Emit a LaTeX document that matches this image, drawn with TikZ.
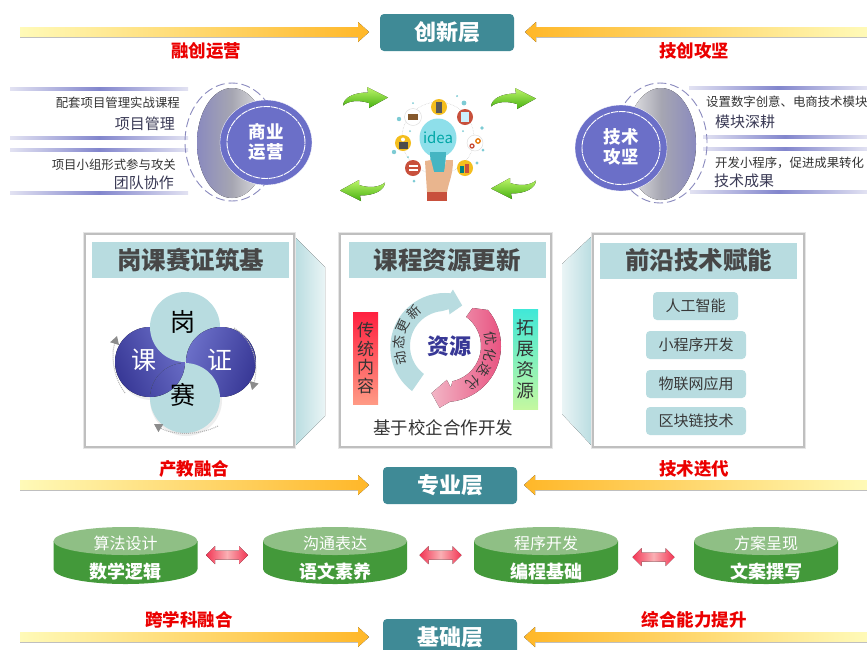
\documentclass[tikz,border=0pt]{standalone}
\usepackage{fontspec}
\setmainfont{Noto Sans CJK SC}
\usetikzlibrary{shapes.geometric,arrows.meta,calc}
\newcommand{\fsz}[1]{\fontsize{#1}{#1}\selectfont}
\definecolor{layerteal}{HTML}{3F8A96}
\definecolor{paleblue}{HTML}{B8DCE0}
\definecolor{deepgreen}{HTML}{43993A}
\definecolor{lightgreen}{HTML}{8FBF85}
\definecolor{roundelblue}{HTML}{6B6FC8}
\definecolor{deepblue}{HTML}{383896}
\definecolor{inkdark}{HTML}{3A3A55}
\definecolor{bandpale}{HTML}{FFFAB8}
\definecolor{bandgold}{HTML}{FFB728}
\definecolor{rulemid}{HTML}{6C70C4}
\definecolor{ruleend}{HTML}{E2E2F2}
\definecolor{lensblue}{HTML}{8A8ABE}
\definecolor{lensgray}{HTML}{A6A6B2}
\definecolor{arrowlight}{HTML}{BDF56A}
\definecolor{arrowdark}{HTML}{46B010}
\definecolor{pinkend}{HTML}{F23554}
\definecolor{pinkmid}{HTML}{FAB0B4}
\definecolor{ringpale}{HTML}{F2B5C5}
\definecolor{ringdeep}{HTML}{E8507F}
\definecolor{redbartop}{HTML}{FF2040}
\definecolor{redbarbot}{HTML}{FF9A85}
\definecolor{mintbartop}{HTML}{40E8D8}
\definecolor{mintbarbot}{HTML}{C4F8A0}
\definecolor{bulbblue}{HTML}{8EDFEA}
\definecolor{neckblue}{HTML}{45B5C2}
\definecolor{skin}{HTML}{E9B58E}
\definecolor{icored}{HTML}{C8503C}
\definecolor{icoyellow}{HTML}{F4BE1E}
\tikzset{
  layerbox/.style={draw=none,fill=layerteal,rounded corners=4pt,text=white,font=\fsz{22}\bfseries,minimum width=134pt,minimum height=37pt,inner sep=0pt},
  redlabel/.style={text=red!92!black,font=\fsz{17.5}\bfseries,inner sep=0pt},
  smalltext/.style={text=black!80,font=\fsz{12.4},inner sep=0pt},
  midtext/.style={text=inkdark,font=\fsz{15},inner sep=0pt},
  roundel/.style={fill=roundelblue,draw=white,line width=.3pt},
  roundeltext/.style={text=white,font=\fsz{17.5}\bfseries,inner sep=0pt},
  panelframe/.style={draw=black!25,line width=1.4pt,fill=white},
  panelhead/.style={fill=paleblue,draw=none,minimum height=36pt,minimum width=197pt,inner sep=0pt,text=black!72,font=\fsz{24.5}\bfseries},
  techbox/.style={fill=paleblue,draw=none,rounded corners=4pt,minimum height=28pt,text=black!78,font=\fsz{15},inner sep=0pt},
  petaltext/.style={font=\fsz{25},inner sep=0pt},
  arctext/.style={text=black!78,font=\fsz{13.5},inner sep=0pt},
  cyltop/.style={text=white,font=\fsz{16},inner sep=0pt},
  cylbot/.style={text=white,font=\fsz{18}\bfseries,inner sep=0pt},
  flick/.style={draw=black!30,line width=1pt,densely dotted,-{Triangle[length=8pt,width=9pt,color=black!45]}},
  dashring/.style={draw=lensblue,line width=.9pt,dash pattern=on 9pt off 4pt},
}
\newcommand{\bandright}[3]{%
  \fill[left color=bandpale,right color=bandgold]
    (#1,#3-5) -- (#2-11,#3-5) -- (#2-11,#3-10) -- (#2,#3) -- (#2-11,#3+10) -- (#2-11,#3+5) -- (#1,#3+5) -- cycle;
  \draw[black!25,line width=.6pt] (#1,#3+5.4) -- (#2-11,#3+5.4);}
\newcommand{\bandleft}[3]{%
  \fill[right color=bandpale,left color=bandgold]
    (#1,#3-5) -- (#2+11,#3-5) -- (#2+11,#3-10) -- (#2,#3) -- (#2+11,#3+10) -- (#2+11,#3+5) -- (#1,#3+5) -- cycle;
  \draw[black!25,line width=.6pt] (#1,#3+5.4) -- (#2+11,#3+5.4);}
\newcommand{\greenarrow}[3]{%
  \begin{scope}[shift={(#1,#2)},#3]
    \fill[top color=arrowlight,bottom color=arrowdark]
      (0,18.5) .. controls (0.5,11) and (10,5.5) .. (25,5.5) -- (24,0) -- (45,10.5) -- (26,21) -- (26,16)
      .. controls (15,12.5) and (5,14) .. (0,18.5) -- cycle;
  \end{scope}}
\newcommand{\drum}[4]{%
  \fill[deepgreen] (#2-72,541) -- (#2-72,569) arc[start angle=180,end angle=360,x radius=72pt,y radius=15pt] -- (#2+72,541) -- cycle;
  \fill[lightgreen] (#2,541) ellipse[x radius=72pt,y radius=14pt];
  \node[cyltop] (#1t) at (#2,543) {#3};
  \node[cylbot] (#1b) at (#2,572) {#4};}
\newcommand{\ruleband}[3]{%
  \fill[left color=ruleend,right color=ruleend,middle color=rulemid!85] (#1,#3-1.3) rectangle (#2,#3+1.3);}
\newcommand{\pinkdouble}[2]{%
  \fill[left color=pinkend,right color=pinkend,middle color=pinkmid]
    (#1-21,#2) -- (#1-12,#2-9) -- (#1-12,#2-4.5) -- (#1+12,#2-4.5) -- (#1+12,#2-9) -- (#1+21,#2)
    -- (#1+12,#2+9) -- (#1+12,#2+4.5) -- (#1-12,#2+4.5) -- (#1-12,#2+9) -- cycle;}
\begin{document}
\begin{tikzpicture}[x=1pt,y=-1pt]
\useasboundingbox (0,0) rectangle (867,649);
\clip (0,0) rectangle (867,649);
\fill[white] (0,0) rectangle (867,649);

% ---- band arrows
\bandright{20}{369}{32}
\bandleft{867}{525}{32}
\bandright{20}{369}{485}
\bandleft{867}{524}{485}
\bandright{20}{369}{637}
\bandleft{867}{524}{637}

% ---- layer boxes
\node[layerbox] (innov) at (447,32.5) {创新层};
\node[layerbox] (major) at (450,485.5) {专业层};
\node[layerbox] (base) at (450,637.5) {基础层};

% ---- red labels
\node[redlabel] (la) at (206,51) {融创运营};
\node[redlabel] (lb) at (694,51) {技创攻坚};
\node[redlabel] (lc) at (194,469) {产教融合};
\node[redlabel] (ld) at (694,469) {技术迭代};
\node[redlabel] (le) at (189,620) {跨学科融合};
\node[redlabel] (lf) at (694,620) {综合能力提升};

% ---- left roundel group
\ruleband{10}{188}{89}
\ruleband{10}{188}{138}
\ruleband{10}{188}{150}
\ruleband{10}{188}{193}
\draw[dashring] (232,142) ellipse[x radius=47pt,y radius=59pt];
\fill[left color=lensblue,right color=black!8,middle color=lensgray] (232,143) ellipse[x radius=35pt,y radius=55pt];
\fill[roundel] (266,142.5) ellipse[x radius=46pt,y radius=42.5pt];
\draw[white,line width=.9pt,dash pattern=on 7pt off .8pt] (266,142.5) ellipse[x radius=39pt,y radius=36pt];
\node[roundeltext] (op1) at (266,132) {商业};
\node[roundeltext] (op2) at (266,152) {运营};
\node[smalltext,anchor=east] (t1) at (180,103) {配套项目管理实战课程};
\node[midtext,anchor=east] (t2) at (175,124) {项目管理};
\node[smalltext,anchor=east] (t3) at (176,165) {项目小组形式参与攻关};
\node[midtext,anchor=east] (t4) at (174,183) {团队协作};

% ---- right roundel group
\ruleband{689}{867}{88}
\ruleband{703}{867}{137}
\ruleband{703}{867}{149}
\ruleband{690}{867}{192}
\draw[dashring] (660,143) ellipse[x radius=47pt,y radius=60pt];
\fill[right color=lensblue,left color=black!8,middle color=lensgray] (661,144) ellipse[x radius=35pt,y radius=56pt];
\fill[roundel] (621,148) ellipse[x radius=46pt,y radius=43pt];
\draw[white,line width=.9pt,dash pattern=on 7pt off .8pt] (621,148) ellipse[x radius=39pt,y radius=36.5pt];
\node[roundeltext] (tc1) at (621,137) {技术};
\node[roundeltext] (tc2) at (621,157) {攻坚};
\node[smalltext,anchor=west] (t5) at (706,102) {设置数字创意、电商技术模块};
\node[midtext,anchor=west] (t6) at (715,122) {模块深耕};
\node[smalltext,anchor=west] (t7) at (715,163) {开发小程序，促进成果转化};
\node[midtext,anchor=west] (t8) at (714,181) {技术成果};

% ---- green arrows
\greenarrow{343}{87}{}
\greenarrow{491}{88}{}
\greenarrow{385}{201}{xscale=-1,yscale=-1}
\greenarrow{536}{199}{xscale=-1,yscale=-1}

% ---- idea illustration
\draw[black!22,line width=.5pt,densely dotted] (438,138) circle[radius=36pt];
\foreach \dx/\dy/\dr in {399/119/2.2,464/103/2.4,482/128/1.8,394/152/2.2,483/150/1.5,477/163/1.6,414/181/1.5,413/103/1,457/96/1,410/131/1,463/131/1,408/157/1}{
  \fill[neckblue!70] (\dx,\dy) circle[radius=\dr pt];}
\fill[icoyellow] (439,107) circle[radius=8pt];
\fill[black!65] (436,101.5) rectangle (442,112.5);
\fill[white] (413,117) circle[radius=8.5pt];
\draw[black!15,line width=.4pt] (413,117) circle[radius=8.5pt];
\fill[brown!70!black] (408,114) rectangle (418,120);
\fill[icored] (465,117) circle[radius=8pt];
\fill[white!80!cyan] (461,112) rectangle (469,122);
\fill[white] (475,143) circle[radius=8pt];
\draw[black!15,line width=.4pt] (475,143) circle[radius=8pt];
\draw[orange!90!black,line width=1.3pt] (478,141) circle[radius=2.2pt];
\draw[icored,line width=1.3pt] (472,146) circle[radius=2pt];
\fill[icoyellow] (465,168) circle[radius=8pt];
\fill[teal] (460,166) rectangle (464,173);
\fill[icored] (465,164) rectangle (469,173);
\fill[icoyellow] (403,143) circle[radius=8pt];
\fill[black!70] (398.5,142) rectangle (407.5,149);
\fill[white] (403,139.5) circle[radius=2pt];
\fill[icored] (413,168) circle[radius=8pt];
\fill[white] (408.5,165) rectangle (417.5,167);
\fill[white] (408.5,169) rectangle (417.5,171);
\fill[bulbblue] (438,138) ellipse[x radius=18.5pt,y radius=19.5pt];
\fill[neckblue] (430,152) -- (446,152) -- (445,172) -- (431,172) -- cycle;
\fill[skin] (425,161) -- (431,160) -- (434,172) -- (444,172) -- (446,160) -- (453,160) .. controls (453,175) and (449,181) .. (447,192) -- (427,192) -- cycle;
\fill[icored] (427,192) rectangle (447,201);
\node[text=teal!70!cyan,font=\fsz{15},inner sep=0pt] (idea) at (438,138) {idea};

% ---- panel 1
\fill[left color=paleblue,right color=paleblue!30] (294,236) -- (325,267) -- (325,416) -- (294,447) -- cycle;
\draw[black!10,line width=4pt] (85,234) rectangle (294,447);
\draw[panelframe] (85,234) rectangle (294,447);
\node[panelhead] (h1) at (190.5,260) {岗课赛证筑基};
\fill[black!7] (152,364) circle[radius=36pt];
\fill[black!7] (186,400) circle[radius=36pt];
\fill[left color=deepblue,right color=roundelblue,shading angle=115] (150,362) circle[radius=35pt];
\fill[paleblue] (185,327) circle[radius=35pt];
\fill[left color=roundelblue,right color=deepblue,shading angle=70] (221,362) circle[radius=35pt];
\fill[paleblue] (185,398) circle[radius=35pt];
\begin{scope}
  \clip (185,398) circle[radius=35pt];
  \fill[left color=deepblue,right color=roundelblue,shading angle=115] (150,362) circle[radius=35pt];
\end{scope}
\draw[flick] (125,393) .. controls (113,377) and (111,355) .. (117,336);
\draw[flick] (234,328) .. controls (254,340) and (259,365) .. (252,390);
\draw[flick] (218,426) .. controls (198,436) and (172,435) .. (154,424);
\node[petaltext] (p1) at (183,322) {岗};
\node[petaltext,text=white] (p2) at (144,360) {课};
\node[petaltext,text=white] (p3) at (220,360) {证};
\node[petaltext] (p4) at (183,395) {赛};

% ---- panel 2
\draw[black!10,line width=4pt] (340,234) rectangle (551,447);
\draw[panelframe] (340,234) rectangle (551,447);
\node[panelhead] (h2) at (447,260) {课程资源更新};
\fill[top color=redbartop,bottom color=redbarbot] (353,312) rectangle (378,404);
\node[text=black!80,align=center,inner sep=0pt,font={\fontsize{17}{18.5}\selectfont}] (v1) at (365.5,358) {传\\统\\内\\容};
\fill[top color=mintbartop,bottom color=mintbarbot] (513,309) rectangle (538,409);
\node[text=black!80,align=center,inner sep=0pt,font={\fontsize{18}{21}\selectfont}] (v2) at (525.5,359) {拓\\展\\资\\源};
\begin{scope}[shift={(445,346)},x=1pt,y=1pt]
  \fill[paleblue] (233:35) arc[start angle=233,end angle=95,radius=35pt]
     -- (84:37) -- (82:32) -- (67:44) -- (82:57) -- (84:53)
     arc[start angle=84,end angle=233,radius=54.5pt] -- cycle;
  \fill[left color=ringpale,right color=ringdeep] (54:36) arc[start angle=54,end angle=-78,radius=36pt]
     -- (-82:42) -- (-87:34) -- (-106:49) -- (-95:62) -- (-85:56)
     arc[start angle=-85,end angle=40,radius=56pt] -- (54:47) -- cycle;
\end{scope}
\node[arctext,rotate=105] (a1) at ($(445,346)+(-44.4,11.9)$) {动};
\node[arctext,rotate=85] (a2) at ($(445,346)+(-45.8,-4)$) {态};
\node[arctext,rotate=65] (a3) at ($(445,346)+(-41.7,-19.4)$) {更};
\node[arctext,rotate=43] (a4) at ($(445,346)+(-31.4,-33.6)$) {新};
\node[arctext,rotate=-80] (b1) at ($(445,346)+(45.3,-8)$) {优};
\node[arctext,rotate=-102] (b2) at ($(445,346)+(45,9.6)$) {化};
\node[arctext,rotate=-122] (b3) at ($(445,346)+(39,24.4)$) {迭};
\node[arctext,rotate=-142] (b4) at ($(445,346)+(28.3,36.2)$) {代};
\node[text=deepblue,font=\fsz{22}\bfseries,inner sep=0pt] (res) at (449,346) {资源};
\node[text=black!80,font=\fsz{17.5},inner sep=0pt] (joint) at (443,428) {基于校企合作开发};

% ---- panel 3
\fill[right color=paleblue,left color=paleblue!30] (593,235) -- (562,264) -- (562,414) -- (593,447) -- cycle;
\draw[black!10,line width=4pt] (593,234) rectangle (804,447);
\draw[panelframe] (593,234) rectangle (804,447);
\node[panelhead] (h3) at (698.5,260.5) {前沿技术赋能};
\node[techbox,minimum width=85pt] (k1) at (695.5,306) {人工智能};
\node[techbox,minimum width=100pt] (k2) at (696,345) {小程序开发};
\node[techbox,minimum width=100pt] (k3) at (696,384) {物联网应用};
\node[techbox,minimum width=100pt] (k4) at (696,421) {区块链技术};

% ---- drums and their linking arrows
\drum{c1}{125.5}{算法设计}{数学逻辑}
\drum{c2}{335}{沟通表达}{语文素养}
\drum{c3}{546}{程序开发}{编程基础}
\drum{c4}{766}{方案呈现}{文案撰写}
\pinkdouble{227}{555}
\pinkdouble{440.5}{555}
\pinkdouble{653.5}{557}
\end{tikzpicture}
\end{document}
